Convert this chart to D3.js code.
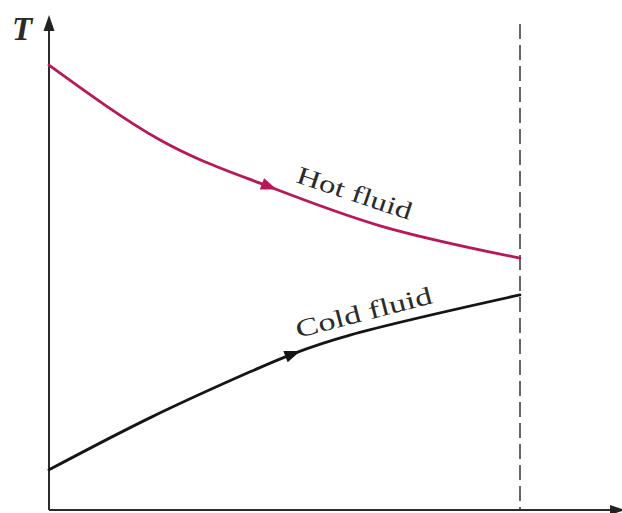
<!DOCTYPE html>
<html>
<head>
<meta charset="utf-8">
<script src="https://cdn.jsdelivr.net/npm/d3@7"></script>
<style>
  body { margin: 0; background: #fff; }
  svg { display: block; }
  text { font-family: "Liberation Serif", "DejaVu Serif", serif; fill: #2a2a2a; }
</style>
</head>
<body>
<svg id="chart" width="622" height="513"></svg>
<script>
// position along the exchanger (0 = inlet, 1 = outlet)
const hotX = [0, 0.236, 0.448, 0.703, 1];
const hotT = [90.8, 75.5, 66.7, 58.0, 51.4];
const coldX = [0, 0.214, 0.427, 0.639, 1];
const coldT = [8.2, 18.8, 28.2, 35.7, 43.9];
const labels = ['Hot fluid', 'Cold fluid'];
const arrowAt = [0.47, 0.52];

const svg = d3.select('#chart');
const margin = {left: 49, top: 20, bottom: 3};
const plotRight = 520;
const height = 513;

const x = d3.scaleLinear().domain([0, 1]).range([margin.left, plotRight]);
const y = d3.scaleLinear().domain([0, 100]).range([height - margin.bottom, margin.top]);

const axisCol = '#2b2b2b';

// outlet marker (dashed)
svg.append('line')
  .attr('x1', x(1)).attr('x2', x(1))
  .attr('y1', 24).attr('y2', y(0))
  .attr('stroke', '#666').attr('stroke-width', 2)
  .attr('stroke-dasharray', '15,6');

// axes
svg.append('line').attr('x1', x(0)).attr('x2', x(0)).attr('y1', y(0)).attr('y2', 26)
  .attr('stroke', axisCol).attr('stroke-width', 2);
svg.append('line').attr('x1', x(0)).attr('x2', 614).attr('y1', y(0)).attr('y2', y(0))
  .attr('stroke', axisCol).attr('stroke-width', 2);
svg.append('path').attr('d', `M${x(0)},15 L${x(0) - 5.5},31 L${x(0) + 5.5},31 Z`).attr('fill', '#222');
svg.append('path').attr('d', `M625,${y(0)} L610,${y(0) - 5} L610,${y(0) + 5} Z`).attr('fill', '#222');

svg.append('text').attr('x', 12).attr('y', 40)
  .attr('font-size', 33).attr('font-style', 'italic').attr('font-weight', 'bold')
  .attr('fill', '#444').text('T');

const line = d3.line().x(d => x(d[0])).y(d => y(d[1])).curve(d3.curveNatural);

const series = [
  {xs: hotX, ts: hotT, color: '#b8185a', width: 2.8},
  {xs: coldX, ts: coldT, color: '#151515', width: 2.8}
];

series.forEach((s, i) => {
  const pts = s.xs.map((v, j) => [v, s.ts[j]]);
  const p = svg.append('path').attr('d', line(pts))
    .attr('fill', 'none').attr('stroke', s.color).attr('stroke-width', s.width)
    .attr('stroke-linecap', 'round');

  // find the point on the path at the arrow's x
  const node = p.node();
  const total = node.getTotalLength();
  const tx = x(arrowAt[i]);
  let lo = 0, hi = total;
  for (let k = 0; k < 30; k++) {
    const mid = (lo + hi) / 2;
    if (node.getPointAtLength(mid).x < tx) lo = mid; else hi = mid;
  }
  const a = node.getPointAtLength(lo);
  const b = node.getPointAtLength(Math.min(total, lo + 2));
  const ang = Math.atan2(b.y - a.y, b.x - a.x) * 180 / Math.PI;
  svg.append('path').attr('d', 'M7,0 L-9,-6 L-9,6 Z')
    .attr('fill', s.color)
    .attr('transform', `translate(${a.x},${a.y}) rotate(${ang})`);
});

// labels
svg.append('text').attr('font-size', 25).attr('textLength', 120).attr('lengthAdjust', 'spacingAndGlyphs')
  .attr('transform', 'translate(295,182) rotate(18.5)').text(labels[0]);
svg.append('text').attr('font-size', 25).attr('textLength', 140).attr('lengthAdjust', 'spacingAndGlyphs')
  .attr('transform', 'translate(298,338) rotate(-14.5)').text(labels[1]);
</script>
</body>
</html>
